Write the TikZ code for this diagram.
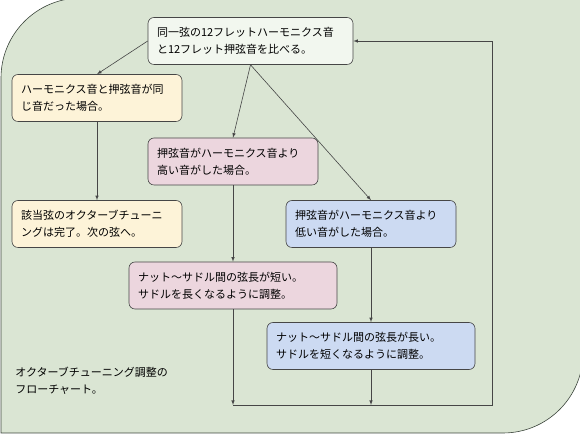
\documentclass[tikz,border=0pt]{standalone}
\usepackage{fontspec}
\newfontfamily\jpfont{Noto Sans CJK JP}
\usetikzlibrary{positioning}
\definecolor{bggreen}{RGB}{218,229,211}
\definecolor{bgline}{RGB}{60,70,60}
\definecolor{boxline}{RGB}{70,70,70}
\definecolor{startfill}{RGB}{242,247,239}
\definecolor{samefill}{RGB}{253,243,216}
\definecolor{highfill}{RGB}{236,214,222}
\definecolor{lowfill}{RGB}{204,218,242}

\begin{document}
\begin{tikzpicture}[x=1pt, y=1pt, -latex, semithick, draw=boxline,
box/.style={rectangle, rounded corners=6pt, draw=boxline, text=black,
font=\jpfont\fontsize{11}{17}\selectfont, align=left, inner xsep=9pt,
inner ysep=0pt, minimum height=47pt, text width=152pt}]
  \useasboundingbox (0,0) rectangle (580,435);
  % background panel
  \draw[-, draw=bgline, fill=bggreen] (1,2) -- (1,357) arc[start angle=180, end angle=90, radius=80]
    -- (583,437) -- (583,82) arc[start angle=0, end angle=-90, radius=80] -- cycle;
  % 1 start node
  \node[box, fill=startfill, text width=187pt] (Cmp) at (250.5,394)
    {同一弦の12フレットハーモニクス音\\と12フレット押弦音を比べる。};
  % 3 case nodes
  \node[box, fill=samefill] (Same) at (97,337)
    {ハーモニクス音と押弦音が同\\じ音だった場合。};
  \node[box, fill=highfill] (High) at (233,273.5)
    {押弦音がハーモニクス音より\\高い音がした場合。};
  \node[box, fill=lowfill] (Low) at (371,211)
    {押弦音がハーモニクス音より\\低い音がした場合。};
  % 3 result nodes
  \node[box, fill=samefill] (Done) at (97,211)
    {該当弦のオクターブチューニ\\ングは完了。次の弦へ。};
  \node[box, fill=highfill, text width=190pt] (Short) at (233,149.5)
    {ナット～サドル間の弦長が短い。\\サドルを長くなるように調整。};
  \node[box, fill=lowfill, text width=190pt] (Long) at (371,89)
    {ナット～サドル間の弦長が長い。\\サドルを短くなるように調整。};
  % title
  \node[anchor=north west, inner sep=0pt, align=left,
    font=\jpfont\fontsize{11}{17}\selectfont] (Title) at (15,68)
    {オクターブチューニング調整の\\フローチャート。};
  % loop back points
  \coordinate (J1) at (233,30);
  \coordinate (J2) at (371,30);
  \coordinate (R1) at (492,30);
  \coordinate (R2) at (492,394);

\draw (Cmp.west) -- (Same.north);
\foreach \from/\to in {Cmp.south/High.north,Cmp.south/Low.north,Same/Done,High/Short,Low/Long,Short/J1,Long/J2}
    \draw (\from) -- (\to);
\draw (J1) -- (R1) -- (R2) -- (Cmp.east);
\end{tikzpicture}
\end{document}
